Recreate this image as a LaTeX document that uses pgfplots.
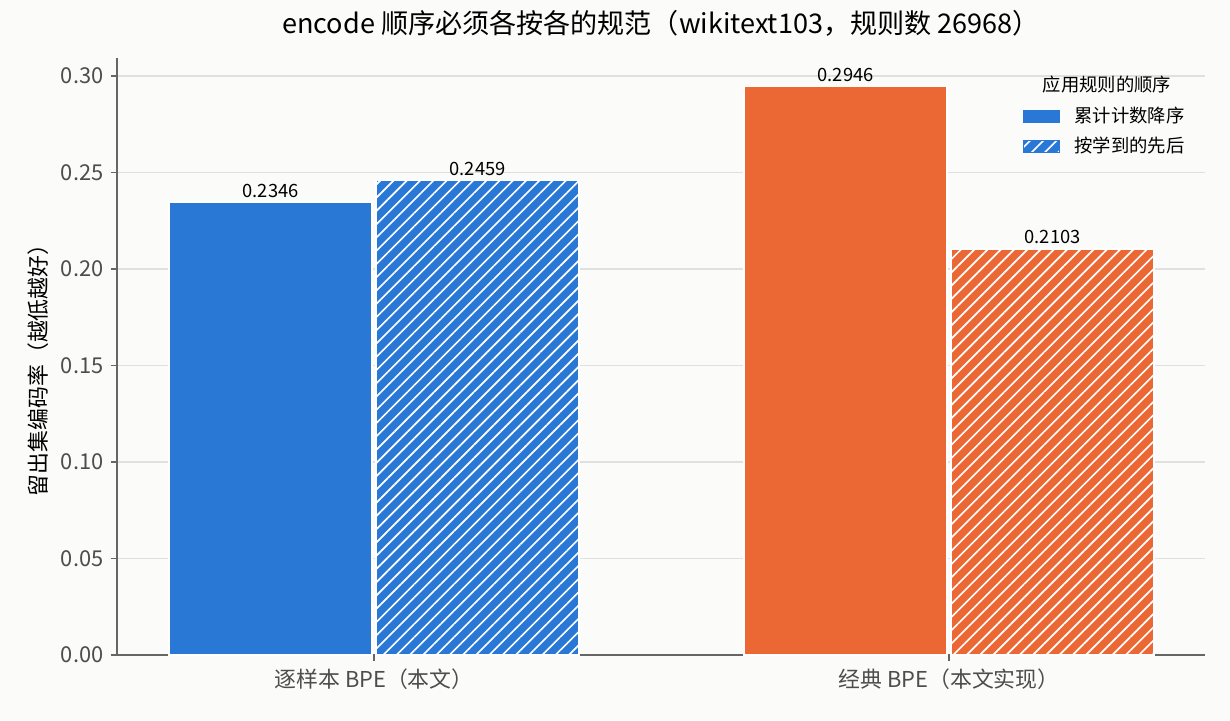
\documentclass[border=0pt]{standalone}
\usepackage{fontspec}
\setmainfont{Noto Sans CJK SC}
\usepackage{pgfplots}
\pgfplotsset{compat=1.18}
\usetikzlibrary{patterns.meta}
\definecolor{bblue}{HTML}{2A78D6}
\definecolor{borange}{HTML}{EB6835}
\definecolor{bg}{HTML}{FBFBF9}
\definecolor{tickgrey}{HTML}{4D4D4D}
\definecolor{spine}{HTML}{666666}
\definecolor{gridc}{HTML}{E0E0E0}
\tikzset{hatchw/.style={postaction={pattern={Lines[angle=45,distance=4.5pt,line width=0.8pt]},pattern color=white}}}
\begin{document}
\begin{tikzpicture}
\fill[bg] (-56.16pt,-31.2pt) rectangle (534.24pt,314.4pt);
\useasboundingbox (-56.16pt,-31.2pt) rectangle (534.24pt,314.4pt);
\begin{axis}[at={(0,0)}, anchor=south west, scale only axis,
  width=522.24pt, height=286.56pt,
  ybar, bar width=0.353, bar shift=0pt,
  xmin=-0.447, xmax=1.445, ymin=0, ymax=0.3093,
  xtick={0,1}, xticklabels={逐样本 BPE（本文）, 经典 BPE（本文实现）},
  ytick={0,0.05,0.10,0.15,0.20,0.25,0.30},
  /pgf/number format/assume math mode=true,
  yticklabel style={/pgf/number format/.cd, fixed, fixed zerofill, precision=2},
  tick label style={color=tickgrey, font=\fontsize{10.5}{12}\selectfont},
  axis lines*=left, axis line style={spine, line width=0.8pt, -},
  tick align=outside, major tick length=3pt,
  tick style={color=spine, line width=0.8pt},
  ymajorgrids, grid style={gridc, line width=0.6pt},
  title={encode 顺序必须各按各的规范（wikitext103，规则数 26968）},
  title style={font=\fontsize{13}{15}\selectfont, at={(rel axis cs:0.5,1)}, anchor=center, yshift=10.6pt},
  ylabel={留出集编码率（越低越好）},
  ylabel style={font=\fontsize{10.5}{12}\selectfont, at={(rel axis cs:0,0.486)}, anchor=center, yshift=37.9pt},
  legend style={at={(rel axis cs:0.991,0.933)}, anchor=north east, draw=none, fill=none,
    font=\fontsize{8.8}{10}\selectfont, row sep=1.6pt},
  legend cell align=left,
  nodes near coords={\pgfmathprintnumber[fixed,fixed zerofill,precision=4]{\pgfplotspointmeta}},
  every node near coord/.style={font=\fontsize{8.8}{10}\selectfont, color=black, anchor=south, inner sep=2pt},
]
\addplot[fill=bblue, draw=white, line width=0.7pt, forget plot] coordinates {(-0.18,0.2346)};
\addplot[fill=bblue, draw=white, line width=0.7pt, hatchw, forget plot] coordinates {(0.18,0.2459)};
\addplot[fill=borange, draw=white, line width=0.7pt, forget plot] coordinates {(0.82,0.2946)};
\addplot[fill=borange, draw=white, line width=0.7pt, hatchw, forget plot] coordinates {(1.18,0.2103)};
\addlegendimage{legend image code/.code={\fill[bblue] (0cm,-0.1cm) rectangle (0.6cm,0.1cm);}}
\addlegendentry{\hspace{5pt}累计计数降序}
\addlegendimage{legend image code/.code={\fill[bblue, hatchw] (0cm,-0.1cm) rectangle (0.6cm,0.1cm);}}
\addlegendentry{\hspace{5pt}按学到的先后}
\node[font=\fontsize{8.8}{10}\selectfont, anchor=center] at (rel axis cs:0.91,0.955) {应用规则的顺序};
\end{axis}
\end{tikzpicture}
\end{document}
